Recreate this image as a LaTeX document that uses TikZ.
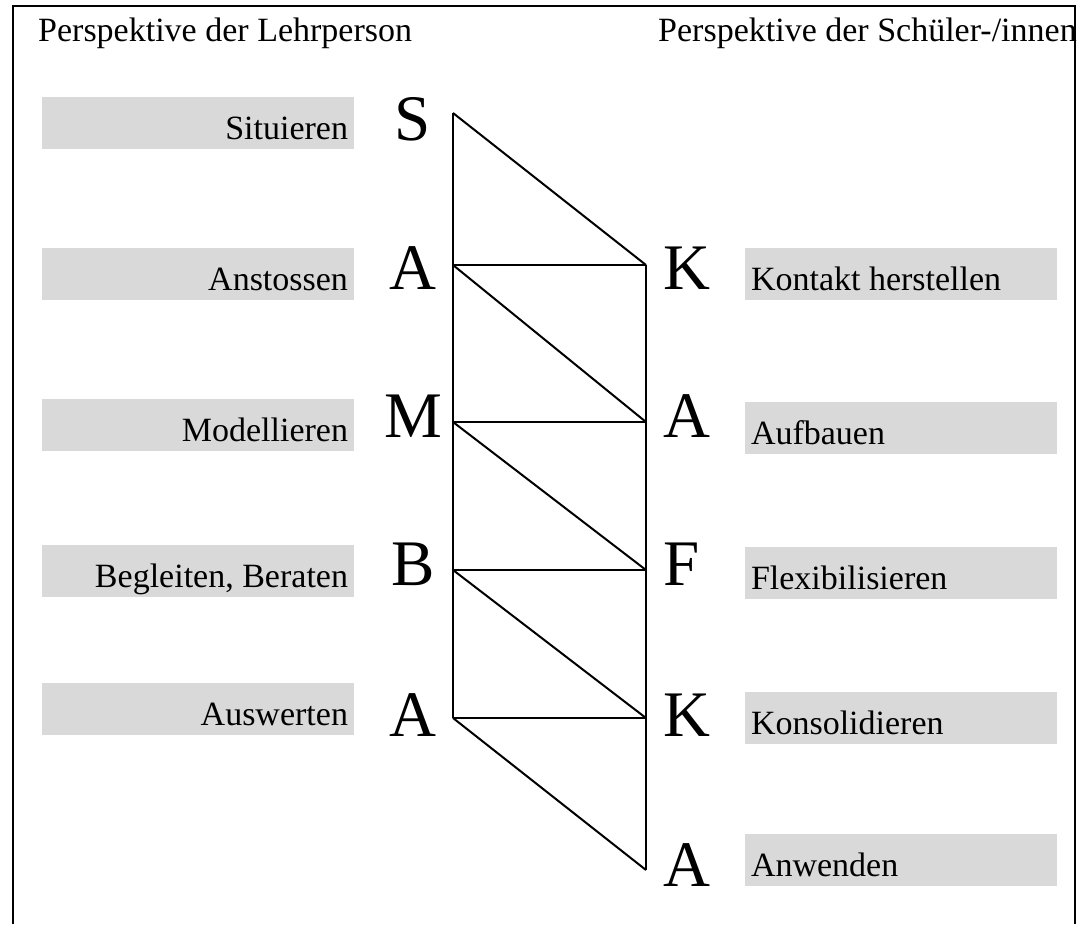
\documentclass[tikz,border=0pt]{standalone}
\usepackage{fontspec}
\setmainfont{Liberation Serif}
\usetikzlibrary{calc}
\definecolor{boxgrey}{HTML}{D9D9D9}
\tikzset{
  frame/.style={line width=2pt, black},
  edge/.style={line width=2pt, black, line join=miter},
  box/.style={fill=boxgrey, draw=none, minimum width=312pt, minimum height=52pt, inner sep=0pt},
  lbl/.style={font=\fontsize{34}{40}\selectfont, inner sep=0pt},
  title/.style={font=\fontsize{34}{40}\selectfont, inner sep=0pt, anchor=base west},
  letter/.style={font=\fontsize{65}{72}\selectfont, inner sep=0pt}
}
\begin{document}
\begin{tikzpicture}[x=1pt, y=-1pt]
\useasboundingbox (0,0) rectangle (1082,924);

% open frame
\draw[frame] (13,924) -- (13,6) -- (1075,6) -- (1075,924);

% headings
\node[title] (tl) at (38,41) {Perspektive der Lehrperson};
\node[title] (tr) at (658,41) {Perspektive der Schüler-/innen};

% teacher side: boxes and labels
\foreach \n/\y/\t in {1/123/Situieren, 2/274/Anstossen, 3/425/Modellieren, 4/571/{Begleiten, Beraten}, 5/709/Auswerten}{
  \node[box] (L\n) at (198,\y) {};
  \node[lbl, anchor=base east] (Lt\n) at ($(L\n.east)+(-6,16)$) {\t};
}

% student side: boxes and labels
\foreach \n/\y/\t in {1/274/Kontakt herstellen, 2/428/Aufbauen, 3/573/Flexibilisieren, 4/718/Konsolidieren, 5/860/Anwenden}{
  \node[box] (R\n) at (901,\y) {};
  \node[lbl, anchor=base west] (Rt\n) at ($(R\n.west)+(6,16)$) {\t};
}

% letters of the two acronyms
\node[letter, anchor=base] (sS)  at (413,140) {S};
\node[letter, anchor=base] (sA1) at (413,289) {A};
\node[letter, anchor=base] (sM)  at (413,437) {M};
\node[letter, anchor=base] (sB)  at (413,585) {B};
\node[letter, anchor=base] (sA2) at (413,736) {A};

\node[letter, anchor=base west] (kK1) at (663,289) {K};
\node[letter, anchor=base west] (kA1) at (663,437) {A};
\node[letter, anchor=base west] (kF)  at (663,585) {F};
\node[letter, anchor=base west] (kK2) at (663,736) {K};
\node[letter, anchor=base west] (kA2) at (663,886) {A};

% ladder vertices
\coordinate (p0) at (453,113);
\coordinate (p1) at (453,265);
\coordinate (p2) at (453,422);
\coordinate (p3) at (453,570);
\coordinate (p4) at (453,718);
\coordinate (q1) at (646,265);
\coordinate (q2) at (646,422);
\coordinate (q3) at (646,570);
\coordinate (q4) at (646,718);
\coordinate (q5) at (646,870);

% rails
\draw[edge] (p0) -- (p4);
\draw[edge] (q1) -- (q5);
% rungs
\draw[edge] (p1) -- (q1);
\draw[edge] (p2) -- (q2);
\draw[edge] (p3) -- (q3);
\draw[edge] (p4) -- (q4);
% diagonals
\draw[edge] (p0) -- (q1);
\draw[edge] (p1) -- (q2);
\draw[edge] (p2) -- (q3);
\draw[edge] (p3) -- (q4);
\draw[edge] (p4) -- (q5);
\end{tikzpicture}
\end{document}
